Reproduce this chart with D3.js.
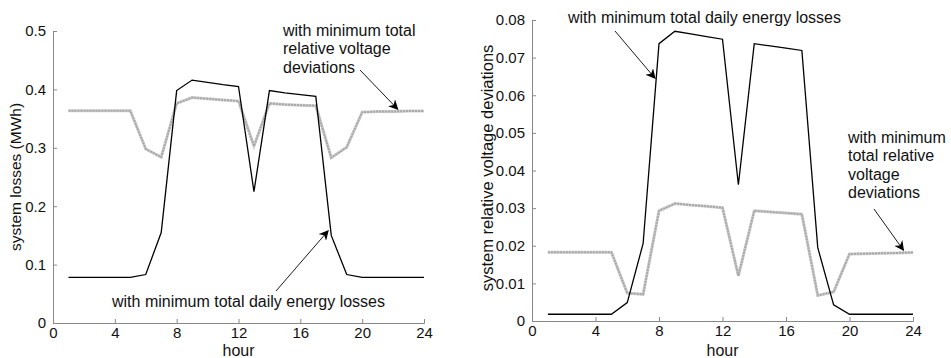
<!DOCTYPE html>
<html>
<head>
<meta charset="utf-8">
<script src="https://cdn.jsdelivr.net/npm/d3@7"></script>
<style>
  body { margin: 0; background: #fff; }
  text { font-family: "Liberation Sans", Arial, sans-serif; fill: #111; }
</style>
</head>
<body>
<script>
// hours 1..24
var hours = d3.range(1, 25);

// left chart: system losses (MWh)
var lossMinEnergy = [0.078, 0.078, 0.078, 0.078, 0.078, 0.083, 0.155, 0.398, 0.416, 0.412, 0.408, 0.405,
    0.225, 0.398, 0.394, 0.391, 0.388, 0.150, 0.083, 0.078, 0.078, 0.078, 0.078, 0.078];
var lossMinVoltage = [0.3635, 0.3635, 0.3635, 0.3635, 0.3635, 0.298, 0.284, 0.376, 0.386, 0.384, 0.382, 0.380,
    0.303, 0.376, 0.374, 0.373, 0.372, 0.283, 0.301, 0.361, 0.362, 0.362, 0.363, 0.363];

// right chart: system relative voltage deviations
var devMinEnergy = [0.0018, 0.0018, 0.0018, 0.0018, 0.0018, 0.0049, 0.0206, 0.0737, 0.0770, 0.0763, 0.0756, 0.0749,
    0.0362, 0.0737, 0.0731, 0.0725, 0.0719, 0.0195, 0.0043, 0.0018, 0.0018, 0.0018, 0.0018, 0.0018];
var devMinVoltage = [0.0183, 0.0183, 0.0183, 0.0183, 0.0183, 0.0074, 0.0071, 0.0293, 0.0312, 0.0308, 0.0305, 0.0301,
    0.0120, 0.0293, 0.0290, 0.0287, 0.0284, 0.0068, 0.0077, 0.0178, 0.0179, 0.0180, 0.0181, 0.0182];

var xTicks = [0, 4, 8, 12, 16, 20, 24];
var leftTicks = [0, 0.1, 0.2, 0.3, 0.4, 0.5];
var rightTicks = [0, 0.01, 0.02, 0.03, 0.04, 0.05, 0.06, 0.07, 0.08];

var svg = d3.select("body")
    .append("svg")
    .attr("width", 951)
    .attr("height", 358);

svg.append("defs").append("marker")
    .attr("id", "arrow")
    .attr("viewBox", "0 0 10 10")
    .attr("refX", 9)
    .attr("refY", 5)
    .attr("markerWidth", 10)
    .attr("markerHeight", 10)
    .attr("markerUnits", "userSpaceOnUse")
    .attr("orient", "auto")
    .append("path")
    .attr("d", "M0,0 L10,5 L0,10 L3,5 z")
    .attr("fill", "#000");

function drawPanel(opt){
    var g = svg.append("g");
    var x = d3.scaleLinear().domain([0, 24]).range([opt.x0, opt.x1]);
    var y = d3.scaleLinear().domain([0, opt.ymax]).range([opt.y0, opt.y1]);

    // axes with inward ticks (matlab style)
    var xAxis = d3.axisBottom(x).tickValues(xTicks).tickSize(-4).tickPadding(4)
        .tickFormat(d3.format("d"));
    var yAxis = d3.axisLeft(y).tickValues(opt.yticks).tickSize(-4).tickPadding(7)
        .tickFormat(function(d){ return d === 0 ? "0" : opt.fmt(d); });

    var gx = g.append("g").attr("transform", "translate(0," + opt.y0 + ")").call(xAxis);
    var gy = g.append("g").attr("transform", "translate(" + opt.x0 + ",0)").call(yAxis);
    [gx, gy].forEach(function(a){
        a.select(".domain").attr("stroke", "#888");
        a.selectAll(".tick line").attr("stroke", "#888");
        a.selectAll(".tick text").style("font-size", "15px")
            .style("font-family", "Liberation Sans, Arial, sans-serif").attr("fill", "#111");
    });

    var line = d3.line()
        .x(function(d, i){ return x(hours[i]); })
        .y(function(d){ return y(d); });

    // gray "dotted" series
    g.append("path").datum(opt.gray).attr("d", line)
        .attr("fill", "none").attr("stroke", "#cfcfcf").attr("stroke-width", 3);
    g.append("path").datum(opt.gray).attr("d", line)
        .attr("fill", "none").attr("stroke", "#a8a8a8").attr("stroke-width", 2)
        .attr("stroke-dasharray", "2,1");

    // black series
    g.append("path").datum(opt.black).attr("d", line)
        .attr("fill", "none").attr("stroke", "#000").attr("stroke-width", 1.3);

    g.append("text")
        .attr("transform", "translate(" + opt.ylabX + "," + opt.ylabY + ") rotate(-90)")
        .attr("text-anchor", "middle")
        .style("font-size", opt.ylabSize)
        .text(opt.ylabel);

    g.append("text")
        .attr("x", (opt.x0 + opt.x1) / 2)
        .attr("y", 356)
        .attr("text-anchor", "middle")
        .style("font-size", "16px")
        .text("hour");

    opt.notes.forEach(function(n){
        var t = g.append("text").attr("x", n.x).attr("y", n.y).style("font-size", "16px");
        n.lines.forEach(function(s, i){
            t.append("tspan").attr("x", n.x).attr("dy", i === 0 ? 0 : 18.3).text(s);
        });
        g.append("line")
            .attr("x1", n.ax[0]).attr("y1", n.ax[1])
            .attr("x2", x(n.to[0])).attr("y2", y(n.to[1]))
            .attr("stroke", "#000").attr("stroke-width", 0.9)
            .attr("marker-end", "url(#arrow)");
    });
}

drawPanel({
    x0: 53, x1: 424, y0: 323, y1: 31, ymax: 0.5,
    yticks: leftTicks, fmt: d3.format(".1f"),
    black: lossMinEnergy, gray: lossMinVoltage,
    ylabel: "system losses (MWh)", ylabX: 21, ylabY: 177, ylabSize: "15.5px",
    notes: [
        {x: 283, y: 36, lines: ["with minimum total", "relative voltage", "deviations"],
         ax: [360, 70], to: [22.3, 0.366]},
        {x: 112, y: 307, lines: ["with minimum total daily energy losses"],
         ax: [276, 291], to: [17.8, 0.158]}
    ]
});

drawPanel({
    x0: 532, x1: 913, y0: 321, y1: 20, ymax: 0.08,
    yticks: rightTicks, fmt: d3.format(".2f"),
    black: devMinEnergy, gray: devMinVoltage,
    ylabel: "system relative voltage deviations", ylabX: 493, ylabY: 168, ylabSize: "16.5px",
    notes: [
        {x: 568, y: 23, lines: ["with minimum total daily energy losses"],
         ax: [615, 31], to: [7.75, 0.0645]},
        {x: 848, y: 143, lines: ["with minimum", "total relative", "voltage", "deviations"],
         ax: [874, 209], to: [23.4, 0.0188]}
    ]
});
</script>
</body>
</html>
